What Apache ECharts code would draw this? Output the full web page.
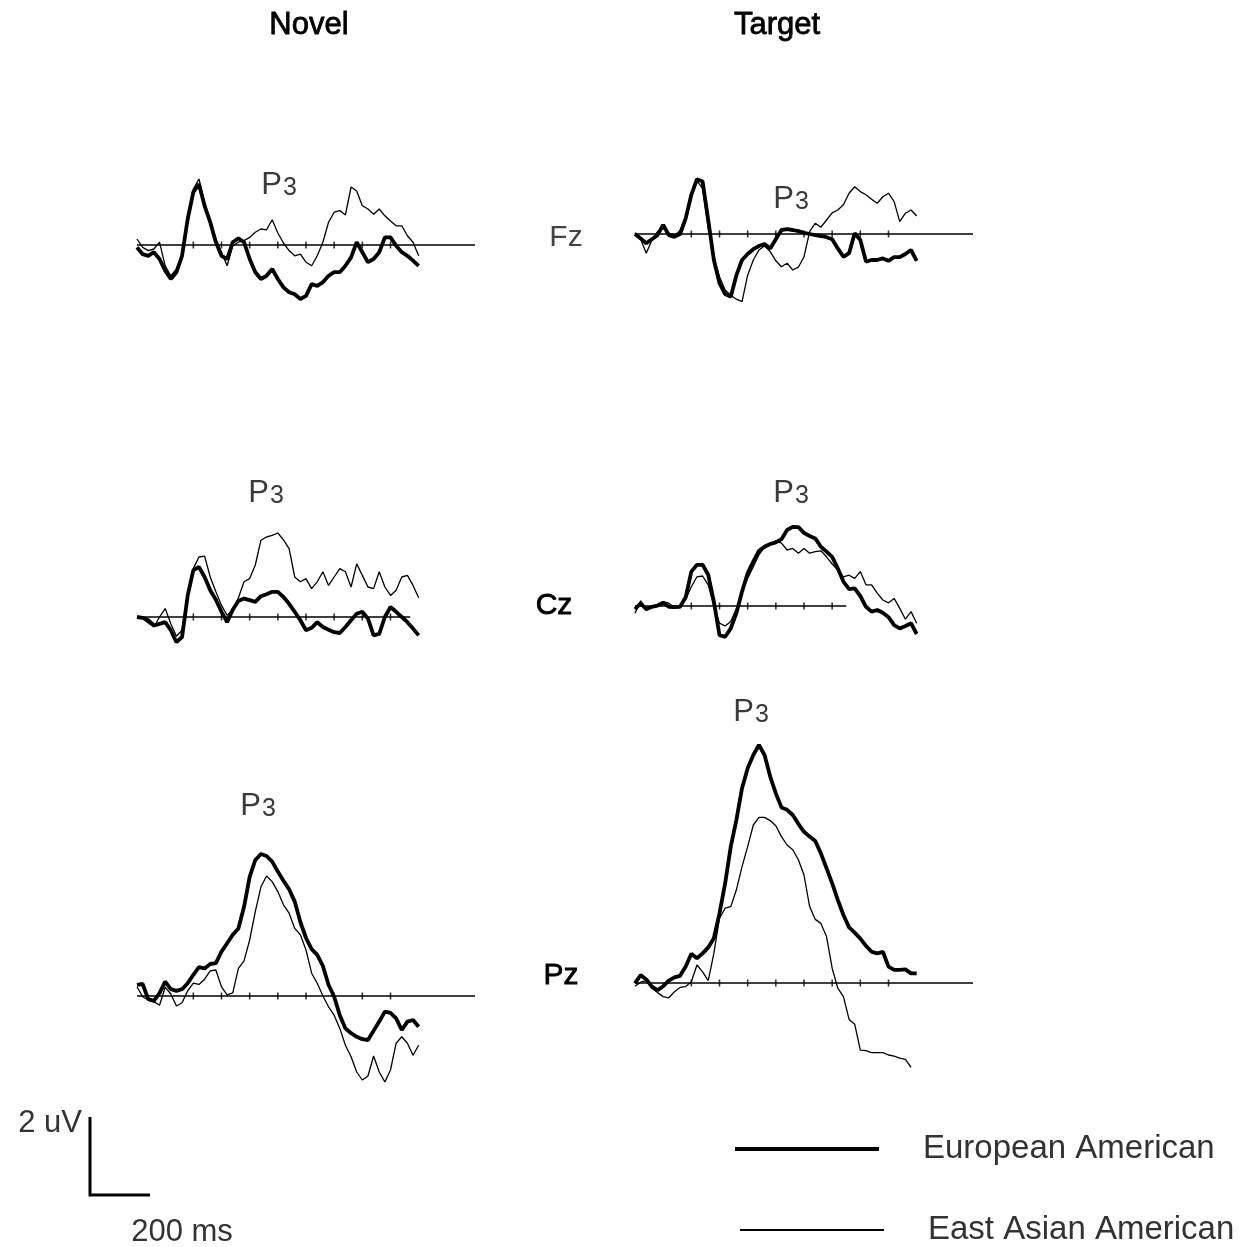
<!DOCTYPE html>
<html>
<head>
<meta charset="utf-8">
<script src="https://cdn.jsdelivr.net/npm/echarts@6/dist/echarts.min.js"></script>
<style>
html,body{margin:0;padding:0;background:#fff;}
#chart{width:1256px;height:1247px;}
</style>
</head>
<body>
<div id="chart"></div>
<script>
// Sample times (ms) shared by every waveform
const times = [-200,-180,-160,-140,-120,-100,-80,-60,-40,-20,0,20,40,60,80,100,120,140,160,180,200,220,240,260,280,300,320,340,360,380,400,420,440,460,480,500,520,540,560,580,600,620,640,660,680,700,720,740,760,780,800];

// Amplitudes (uV) — European American (thick) / East Asian American (thin)
const novelFzEA  = [-0.06,-0.23,-0.27,-0.18,-0.35,-0.64,-0.85,-0.68,-0.27,0.65,1.32,1.52,0.98,0.57,0.07,-0.27,-0.35,0.07,0.17,0.07,-0.35,-0.68,-0.85,-0.77,-0.6,-0.85,-1.06,-1.18,-1.23,-1.35,-1.27,-0.98,-1.02,-0.93,-0.77,-0.68,-0.68,-0.52,-0.31,0.07,-0.18,-0.43,-0.35,-0.18,0.19,0.19,-0.02,-0.18,-0.27,-0.39,-0.52];
const novelFzEAA = [0.15,-0.06,-0.14,-0.1,0.07,-0.52,-0.77,-0.6,-0.23,0.73,1.4,1.65,1.06,0.6,0.15,-0.18,-0.52,-0.02,0.07,0.11,0.19,0.32,0.4,0.38,0.63,0.3,0.05,-0.14,-0.27,-0.23,-0.43,-0.52,-0.27,0.07,0.57,0.82,0.86,0.75,1.45,1.35,0.98,0.9,0.77,0.9,0.73,0.6,0.48,0.48,0.23,0.07,-0.27];
const targetFzEA  = [0,-0.11,-0.23,-0.13,-0.03,0.23,-0.03,-0.07,0,0.39,0.98,1.37,1.31,0.35,-0.65,-1.23,-1.5,-1.57,-1.03,-0.65,-0.5,-0.38,-0.3,-0.25,-0.36,-0.13,0.1,0.12,0.1,0.07,0.03,0,-0.03,-0.05,-0.08,-0.13,-0.36,-0.57,-0.48,0.02,-0.15,-0.69,-0.65,-0.65,-0.61,-0.67,-0.58,-0.58,-0.5,-0.4,-0.67];
const targetFzEAA = [0.03,-0.13,-0.48,-0.15,0.06,0.14,0.02,-0.03,0.08,0.43,1.02,1.33,1.14,0.14,-0.58,-1.07,-1.4,-1.53,-1.63,-1.69,-1.03,-0.65,-0.4,-0.3,-0.44,-0.67,-0.82,-0.73,-0.9,-0.83,-0.57,0.06,0.27,0.17,0.35,0.53,0.6,0.73,1.02,1.18,1.06,0.98,0.87,0.77,0.93,1.02,0.81,0.31,0.52,0.6,0.45];
const novelCzEA  = [0,-0.02,-0.08,-0.21,-0.17,-0.13,-0.33,-0.63,-0.5,0.54,1.17,1.25,1.0,0.67,0.43,0.13,-0.13,0.18,0.4,0.46,0.42,0.38,0.52,0.57,0.63,0.63,0.5,0.33,0.13,-0.08,-0.33,-0.27,-0.13,-0.25,-0.32,-0.38,-0.4,-0.25,-0.08,0.08,0.13,-0.04,-0.46,-0.42,0,0.25,0.13,0,-0.13,-0.29,-0.46];
const novelCzEAA = [0.02,-0.04,-0.15,-0.25,0,0.21,-0.17,-0.48,-0.33,0.58,1.21,1.5,1.52,1.0,0.63,0.29,0.04,0.18,0.48,0.88,0.96,1.3,1.92,2.0,2.04,2.1,1.93,1.71,1.0,0.88,0.96,0.71,0.88,1.13,0.79,1.0,1.21,1.13,0.75,1.33,1.04,0.75,0.71,1.13,0.75,0.54,0.67,1.0,1.04,0.79,0.48];
const targetCzEA  = [-0.08,0.07,-0.08,-0.02,0.01,0.08,-0.02,-0.03,-0.02,0.22,0.86,1.03,1.03,0.78,0.11,-0.73,-0.77,-0.56,-0.18,0.36,0.82,1.11,1.38,1.48,1.55,1.59,1.67,1.9,1.98,1.97,1.83,1.75,1.69,1.48,1.36,1.23,0.94,0.61,0.42,0.44,0.25,-0.02,-0.14,-0.1,-0.17,-0.28,-0.48,-0.56,-0.5,-0.43,-0.7];
const targetCzEAA = [-0.18,0.13,-0.1,-0.03,0.04,0.11,0.07,-0.04,-0.02,0.17,0.48,0.73,0.75,0.53,0,-0.43,-0.5,-0.39,-0.06,0.36,0.69,0.98,1.28,1.47,1.53,1.63,1.57,1.4,1.44,1.32,1.44,1.32,1.36,1.38,1.23,1.05,0.9,0.73,0.77,0.69,0.86,0.53,0.53,0.32,0.15,0.08,0.19,-0.06,-0.33,-0.14,-0.43];
const novelPzEA  = [0.28,0.3,-0.08,-0.12,0.07,0.36,0.17,0.13,0.17,0.32,0.53,0.72,0.69,0.8,0.82,1.11,1.32,1.53,1.69,2.23,2.98,3.4,3.55,3.5,3.36,3.11,2.88,2.67,2.36,1.85,1.45,1.17,1.03,0.75,0.28,-0.02,-0.48,-0.81,-0.93,-1.02,-1.08,-1.1,-0.87,-0.64,-0.39,-0.42,-0.56,-0.85,-0.64,-0.6,-0.77];
const novelPzEAA = [0.23,-0.02,-0.1,-0.14,-0.23,0.22,0.05,-0.25,-0.17,0.13,0.32,0.29,0.42,0.63,0.65,0.23,0.03,0.08,0.69,0.88,1.4,2.11,2.73,3.0,2.86,2.61,2.28,2.07,1.69,1.53,1.15,0.57,0.32,0,-0.27,-0.48,-0.81,-1.23,-1.52,-1.9,-2.1,-2.0,-1.5,-1.9,-2.15,-1.85,-1.18,-1.02,-1.18,-1.48,-1.23];
const targetPzEA  = [-0.01,0.2,0.09,-0.09,-0.18,-0.08,0.06,0.14,0.18,0.41,0.73,0.62,0.74,0.89,1.12,1.74,2.49,3.41,4.08,4.87,5.37,5.7,5.95,5.7,5.16,4.74,4.39,4.33,4.2,3.98,3.78,3.66,3.55,3.24,2.87,2.49,2.08,1.7,1.39,1.26,1.11,0.93,0.78,0.74,0.78,0.41,0.33,0.33,0.34,0.24,0.24];
const targetPzEAA = [-0.08,0.02,0.06,-0.13,-0.24,-0.34,-0.37,-0.22,-0.11,-0.09,0.03,0.45,0.28,0.06,0.74,1.62,1.87,1.91,2.33,2.91,3.41,3.95,4.14,4.14,4.06,3.93,3.66,3.45,3.33,3.08,2.7,1.91,1.59,1.49,1.16,0.37,-0.13,-0.34,-0.91,-1.03,-1.68,-1.69,-1.74,-1.74,-1.74,-1.8,-1.83,-1.88,-1.91,-2.11,null];

// Baseline extents (ms) and tick times (ms)
const baselineStart = -200;
const baselineEnds = [1000, 1000, 770, 550, 1000, 1000];
const tickTimesLong = [0,100,200,300,400,500,600,700];
const tickTimesShort = [0,100,200,300,400,500];

const groupNames = ['European American', 'East Asian American'];
const columnTitles = ['Novel', 'Target'];
const electrodes = ['Fz', 'Cz', 'Pz'];

// Panel order: novelFz, targetFz, novelCz, targetCz, novelPz, targetPz
const panelEA  = [novelFzEA, targetFzEA, novelCzEA, targetCzEA, novelPzEA, targetPzEA];
const panelEAA = [novelFzEAA, targetFzEAA, novelCzEAA, targetCzEAA, novelPzEAA, targetPzEAA];
const panelTicks = [tickTimesLong, tickTimesLong, tickTimesLong, tickTimesShort, tickTimesLong, tickTimesLong];

// Layout (pixels)
const pxPerUV = 40;
const gridLayout = [
  {left: 137, base: 245, ymin: -2.5, ymax: 2.5},
  {left: 635, base: 234, ymin: -2.5, ymax: 2.5},
  {left: 137, base: 617, ymin: -2.5, ymax: 2.5},
  {left: 635, base: 606, ymin: -2.5, ymax: 2.5},
  {left: 137, base: 996, ymin: -2.5, ymax: 6.5},
  {left: 635, base: 983, ymin: -2.5, ymax: 6.5}
];
const gridWidth = 338;

const font = 'Liberation Sans, Arial, Helvetica, sans-serif';

const grids = [], xAxes = [], yAxes = [], series = [];
gridLayout.forEach((g, i) => {
  grids.push({
    left: g.left, top: g.base - g.ymax * pxPerUV, width: gridWidth,
    height: (g.ymax - g.ymin) * pxPerUV, containLabel: false, outerBoundsMode: 'none',
    show: false
  });
  xAxes.push({type: 'value', gridIndex: i, min: -200, max: 1000, show: false});
  yAxes.push({type: 'value', gridIndex: i, min: g.ymin, max: g.ymax, show: false});
  series.push({
    type: 'line', xAxisIndex: i, yAxisIndex: i, silent: true, symbol: 'none',
    data: [[baselineStart, 0], [baselineEnds[i], 0]],
    lineStyle: {color: '#000', width: 1.6}, z: 1
  });
  series.push({
    type: 'scatter', xAxisIndex: i, yAxisIndex: i, silent: true,
    symbol: 'rect', symbolSize: [1.6, 7],
    data: panelTicks[i].map(t => [t, 0]),
    itemStyle: {color: '#000'}, z: 1
  });
  series.push({
    name: groupNames[1], type: 'line', xAxisIndex: i, yAxisIndex: i,
    symbol: 'none', showSymbol: false,
    data: times.map((t, k) => [t, panelEAA[i][k]]),
    lineStyle: {color: '#000', width: 1.3}, itemStyle: {color: '#000'}, z: 2
  });
  series.push({
    name: groupNames[0], type: 'line', xAxisIndex: i, yAxisIndex: i,
    symbol: 'none', showSymbol: false,
    data: times.map((t, k) => [t, panelEA[i][k]]),
    lineStyle: {color: '#000', width: 3.8}, itemStyle: {color: '#000'}, z: 3
  });
});

function p3(x, y) {
  return {
    type: 'text', x: x, y: y,
    style: {
      text: '{p|P}{n|3}', align: 'center', verticalAlign: 'middle',
      rich: {
        p: {fontSize: 31, fontFamily: font, fill: '#3a3a3a', verticalAlign: 'bottom'},
        n: {fontSize: 25, fontFamily: font, fill: '#3a3a3a', verticalAlign: 'bottom', padding: [0, 0, 0, 1]}
      }
    }
  };
}
function label(text, x, y, size, color, heavy) {
  const style = {text: text, fontSize: size, fontFamily: font, fill: color, align: 'center', verticalAlign: 'middle'};
  if (heavy) { style.stroke = color; style.lineWidth = 0.8; }
  return {type: 'text', x: x, y: y, style: style};
}

const graphics = [
  label(columnTitles[0], 309, 25, 31, '#000', true),
  label(columnTitles[1], 777, 25, 31, '#000', true),
  label(electrodes[0], 566, 238, 30, '#444'),
  label(electrodes[1], 554, 606, 30, '#000', true),
  label(electrodes[2], 561, 976, 30, '#000', true),
  p3(279, 185), p3(791, 199), p3(266, 493), p3(791, 493), p3(258, 806), p3(751, 712),
  {type: 'polyline', shape: {points: [[90, 1117], [90, 1195], [150, 1195]]},
   style: {stroke: '#000', lineWidth: 3, fill: null}},
  {type: 'text', x: 82, y: 1123, style: {text: '2 uV', fontSize: 31, fontFamily: font, fill: '#333', align: 'right', verticalAlign: 'middle'}},
  label('200 ms', 182, 1232, 31, '#333')
];

const chart = echarts.init(document.getElementById('chart'), null, {renderer: 'canvas'});
chart.setOption({
  animation: false,
  backgroundColor: '#fff',
  grid: grids,
  xAxis: xAxes,
  yAxis: yAxes,
  legend: [
    {data: [groupNames[0]], left: 730, top: 1120, padding: 5, itemWidth: 144, itemHeight: 4, icon: 'rect',
     selectedMode: false, itemStyle: {color: '#000', borderWidth: 0},
     textStyle: {fontSize: 33, fontFamily: font, color: '#333', lineHeight: 36, padding: [12, 0, 0, 39]}},
    {data: [groupNames[1]], left: 735, top: 1201, padding: 5, itemWidth: 144, itemHeight: 2, icon: 'rect',
     selectedMode: false, itemStyle: {color: '#000', borderWidth: 0},
     textStyle: {fontSize: 33, fontFamily: font, color: '#333', lineHeight: 36, padding: [0, 0, 12, 39]}}
  ],
  graphic: graphics,
  series: series
});
</script>
</body>
</html>
